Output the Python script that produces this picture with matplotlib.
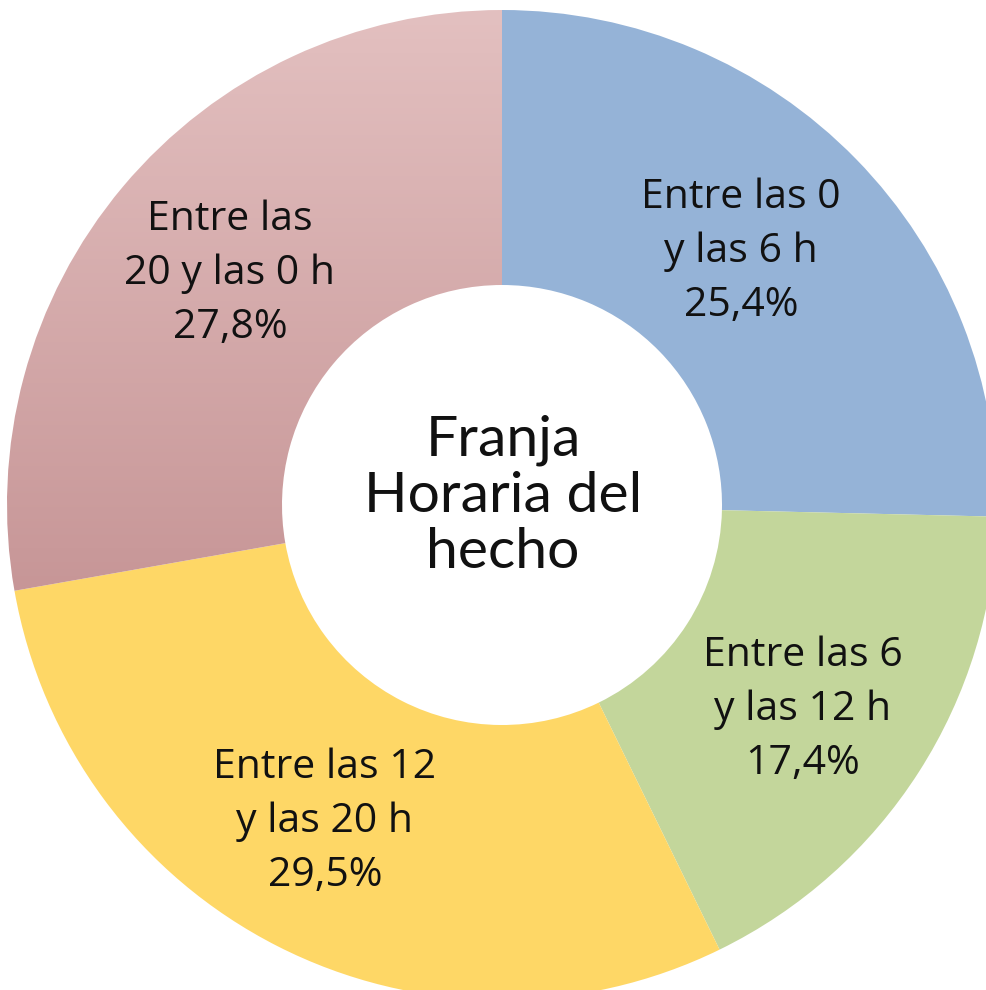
import matplotlib.pyplot as plt
import numpy as np
from matplotlib.colors import LinearSegmentedColormap

plt.rcParams['font.family'] = ['Lato', 'DejaVu Sans']

labels = ['Entre las 0\ny las 6 h', 'Entre las 6\ny las 12 h',
          'Entre las 12\ny las 20 h', 'Entre las\n20 y las 0 h']
values = [25.4, 17.4, 29.5, 27.8]
colors = ['#95b3d7', '#c3d69b', '#fed766', '#e0bcbc']
center_title = 'Franja\nHoraria del\nhecho'
# label centres in pixels from the top-left corner
label_pos = [(741, 252), (803, 710), (325, 822), (230, 274)]

W, H = 987, 990
fig = plt.figure(figsize=(W / 100, H / 100), dpi=100)
ax = fig.add_axes([0, 0, 1, 1])
ax.set_xlim(0, W)
ax.set_ylim(0, H)
ax.set_aspect('equal')
ax.axis('off')

cx, cy, r = 502, H - 505, 495
texts = [f'{l}\n{v:.1f}%'.replace('.', ',') for l, v in zip(labels, values)]
wedges, txts = ax.pie(values, colors=colors, startangle=90, counterclock=False,
                      center=(cx, cy), radius=r, labels=texts, labeldistance=0.72,
                      wedgeprops=dict(width=r - 220, linewidth=0),
                      textprops=dict(fontsize=29.5, ha='center', va='center',
                                     linespacing=1.45, color='#111111',
                                     family=['Open Sans', 'DejaVu Sans']))
for t, (px, py) in zip(txts, label_pos):
    t.set_horizontalalignment('center')
    t.set_position((px, H - py))
    t.set_zorder(3)

# vertical gradient on the last wedge
grad = LinearSegmentedColormap.from_list('pink', ['#c79697', '#e3c0c0'])
pink = wedges[3]
bbox = pink.get_path().get_extents()
img = ax.imshow(np.linspace(0, 1, 256).reshape(-1, 1), cmap=grad, origin='lower',
                extent=[bbox.x0, bbox.x1, bbox.y0, bbox.y1], aspect='auto', zorder=1)
img.set_clip_path(pink)
pink.set_facecolor('none')

ax.text(cx + 1, H - 496, center_title, fontsize=41, ha='center', va='center',
        linespacing=1.12, color='#111111')

ax.set_xlim(0, W)
ax.set_ylim(0, H)
fig.savefig('out.png', dpi=100)
